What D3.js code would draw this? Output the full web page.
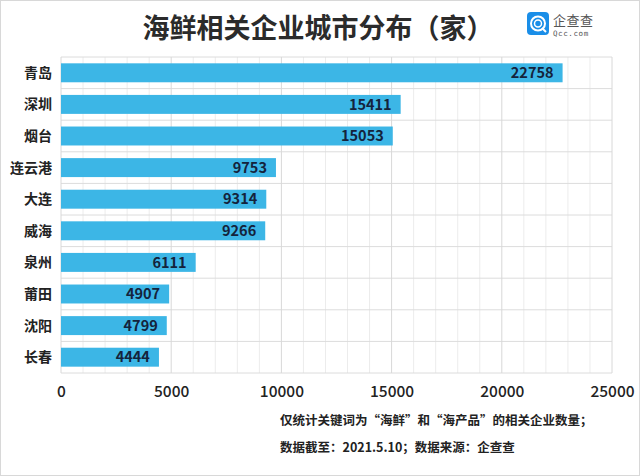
<!DOCTYPE html>
<html>
<head>
<meta charset="utf-8">
<script src="https://cdn.jsdelivr.net/npm/d3@7"></script>
<style>
  body { margin: 0; background: #fff; }
  svg { display: block; }
</style>
</head>
<body>
<div id="chart"></div>
<script>
// data
var cities = ["青岛", "深圳", "烟台", "连云港", "大连", "威海", "泉州", "莆田", "沈阳", "长春"];
var counts = [22758, 15411, 15053, 9753, 9314, 9266, 6111, 4907, 4799, 4444];
var ticks = [0, 5000, 10000, 15000, 20000, 25000];
var notes = ["仅统计关键词为“海鲜”和“海产品”的相关企业数量；", "数据截至：2021.5.10；数据来源：企查查"];

var W = 640, H = 476;
var cjk = "'Noto Sans CJK SC', 'Noto Sans', sans-serif";

var svg = d3.select("#chart").append("svg")
  .attr("width", W).attr("height", H);

svg.append("rect")
  .attr("x", 0.5).attr("y", 0.5).attr("width", W - 1).attr("height", H - 1)
  .attr("fill", "#fff").attr("stroke", "#d8d8d8");

var x = d3.scaleLinear().domain([0, 25000]).range([61, 612]);
var y = d3.scaleBand().domain(cities).range([57, 373]).paddingInner(0.4).paddingOuter(0.2);

// grid: minor every 1000, major every 5000
var g = svg.append("g");
g.selectAll(".minor")
  .data(d3.range(1000, 25000, 1000).filter(function(v){ return v % 5000 !== 0; }))
  .enter().append("line")
  .attr("x1", function(d){ return x(d); }).attr("x2", function(d){ return x(d); })
  .attr("y1", 57).attr("y2", 373)
  .style("stroke", "#ececec").style("stroke-width", 1);

var rows = d3.range(cities.length + 1).map(function(i){ return 57 + i * (316 / cities.length); });
g.selectAll(".hline").data(rows).enter().append("line")
  .attr("x1", x(0)).attr("x2", x(25000))
  .attr("y1", function(d){ return d; }).attr("y2", function(d){ return d; })
  .style("stroke", "#dcdcdc").style("stroke-width", 1);

g.selectAll(".major").data(ticks).enter().append("line")
  .attr("x1", function(d){ return x(d); }).attr("x2", function(d){ return x(d); })
  .attr("y1", 57).attr("y2", 373)
  .style("stroke", "#d8d8d8").style("stroke-width", 1);

// bars
svg.selectAll(".bar").data(counts).enter().append("rect")
  .attr("x", x(0))
  .attr("y", function(d, i){ return y(cities[i]); })
  .attr("width", function(d){ return x(d) - x(0); })
  .attr("height", y.bandwidth())
  .attr("fill", "#3cb6e6");

// value labels
svg.selectAll(".val").data(counts).enter().append("text")
  .attr("x", function(d){ return x(d) - 9; })
  .attr("y", function(d, i){ return y(cities[i]) + y.bandwidth() / 2; })
  .attr("dy", "0.36em")
  .attr("text-anchor", "end")
  .style("font-family", cjk)
  .style("font-size", "14.5px")
  .style("font-weight", "bold")
  .style("fill", "#14233c")
  .text(function(d){ return d; });

// category labels
svg.selectAll(".cat").data(cities).enter().append("text")
  .attr("x", 52)
  .attr("y", function(d){ return y(d) + y.bandwidth() / 2; })
  .attr("dy", "0.36em")
  .attr("text-anchor", "end")
  .style("font-family", cjk)
  .style("font-size", "14px")
  .style("font-weight", "bold")
  .style("fill", "#222")
  .text(function(d){ return d; });

// x axis tick labels
var xAxis = d3.axisBottom(x).tickValues(ticks).tickSize(0).tickPadding(0).tickFormat(d3.format("d"));
var ax = svg.append("g").attr("transform", "translate(0,374)").call(xAxis);
ax.select(".domain").remove();
ax.selectAll("text")
  .attr("y", 12)
  .style("font-family", cjk)
  .style("font-size", "15.5px")
  .style("font-weight", "500")
  .style("fill", "#222");

// title
svg.append("text")
  .attr("x", 318).attr("y", 38)
  .attr("text-anchor", "middle")
  .style("font-family", cjk)
  .style("font-size", "27px")
  .style("font-weight", "bold")
  .style("fill", "#2b2b2b")
  .text("海鲜相关企业城市分布（家）");

// logo
var logo = svg.append("g").attr("transform", "translate(527,12)");
logo.append("rect").attr("width", 22).attr("height", 23).attr("rx", 4).attr("fill", "#1a8ee8");
logo.append("circle").attr("cx", 11).attr("cy", 11.5).attr("r", 7)
  .attr("fill", "none").attr("stroke", "#fff").attr("stroke-width", 2);
logo.append("circle").attr("cx", 11).attr("cy", 11.5).attr("r", 3.5)
  .attr("fill", "none").attr("stroke", "#fff").attr("stroke-width", 1.5);
logo.append("line").attr("x1", 15).attr("y1", 16).attr("x2", 19).attr("y2", 20)
  .attr("stroke", "#fff").attr("stroke-width", 2);
logo.append("text").attr("x", 26).attr("y", 13)
  .style("font-family", cjk).style("font-size", "13px").style("letter-spacing", "0.5px").style("fill", "#555")
  .text("企查查");
logo.append("text").attr("x", 26).attr("y", 24)
  .style("font-family", "'DejaVu Sans Mono', monospace").style("font-size", "7.5px")
  .style("letter-spacing", "0.6px").style("fill", "#555")
  .text("Qcc.com");

// notes
svg.selectAll(".note").data(notes).enter().append("text")
  .attr("x", 280)
  .attr("y", function(d, i){ return 425 + i * 27; })
  .style("font-family", cjk)
  .style("font-size", "12.5px")
  .style("font-weight", "bold")
  .style("fill", "#222")
  .text(function(d){ return d; });
</script>
</body>
</html>
